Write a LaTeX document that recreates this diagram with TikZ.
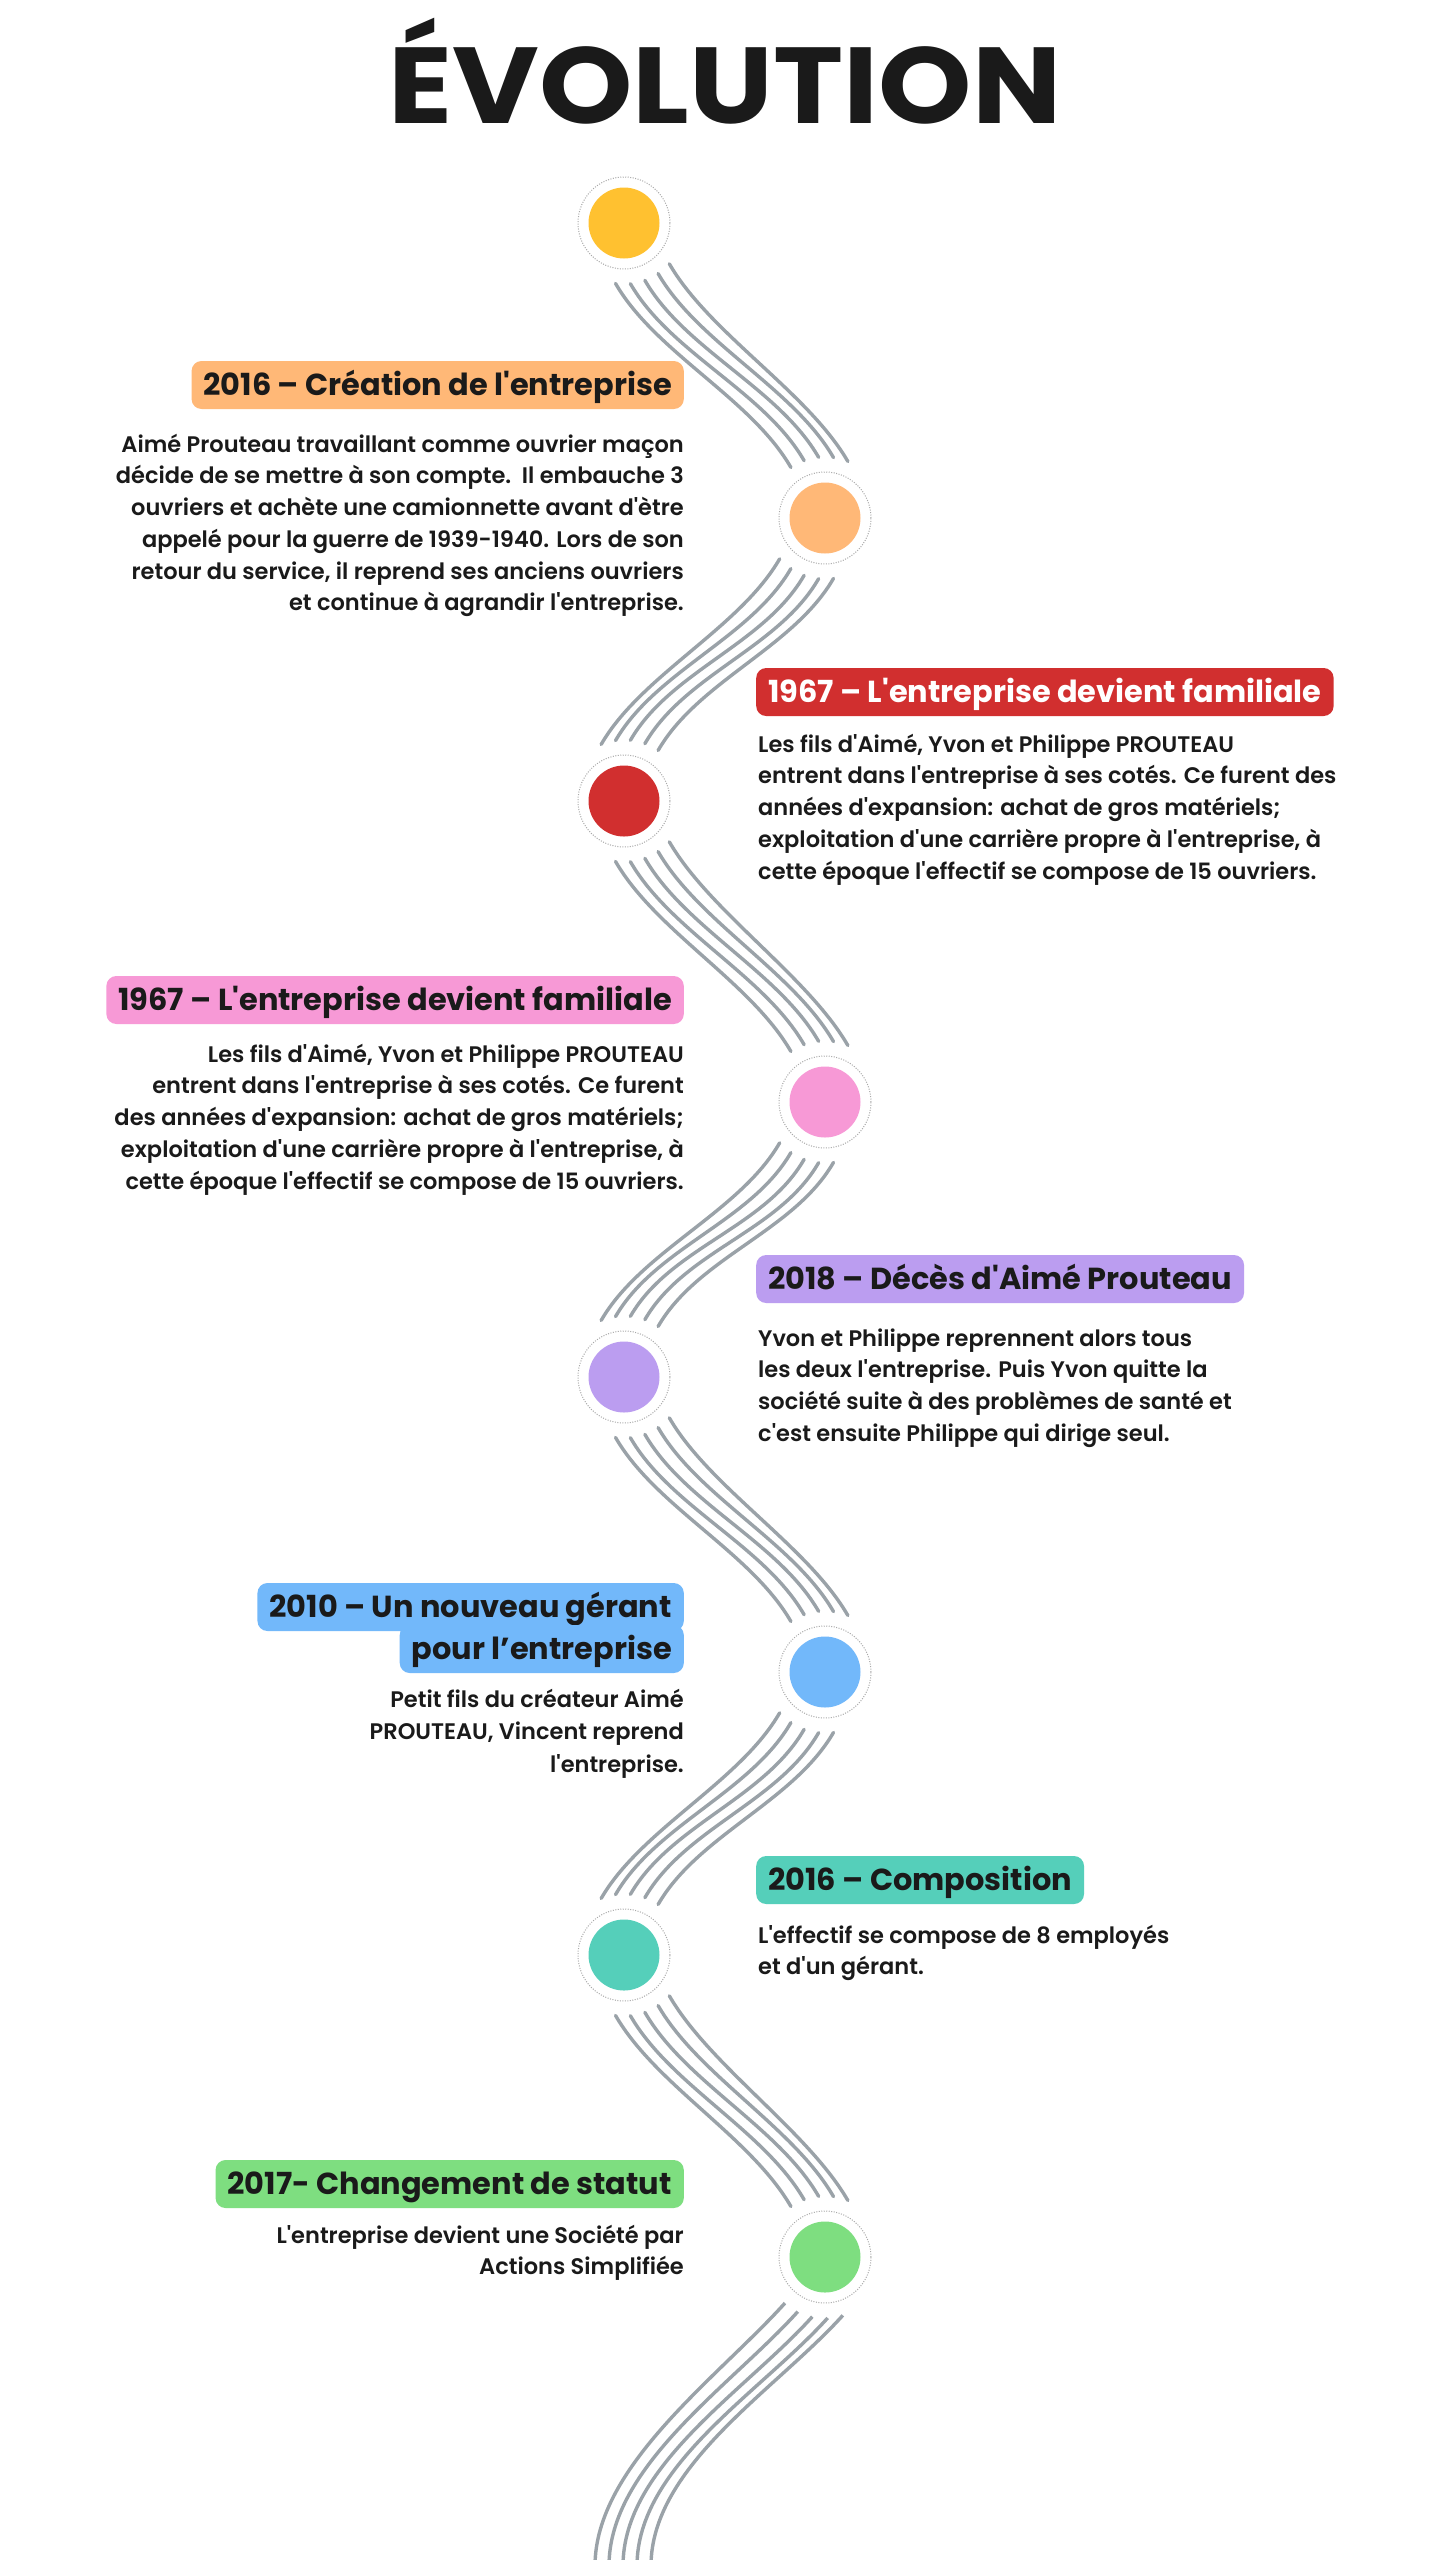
\documentclass[tikz,border=0pt]{standalone}
\usepackage{fontspec}
\newfontfamily\headfont{Poppins}
\IfFontExistsTF{Poppins SemiBold}{\newfontfamily\bodyfont{Poppins SemiBold}}{\newfontfamily\bodyfont{Poppins}}
\definecolor{cYellow}{HTML}{FFC130}
\definecolor{cOrange}{HTML}{FFB877}
\definecolor{cRed}{HTML}{D12F2F}
\definecolor{cPink}{HTML}{F799D6}
\definecolor{cPurple}{HTML}{BB9DF0}
\definecolor{cBlue}{HTML}{72B8FA}
\definecolor{cTeal}{HTML}{55CFBA}
\definecolor{cGreen}{HTML}{7EDE80}
\definecolor{wavegray}{HTML}{9AA2A8}
\definecolor{ringgray}{HTML}{A8A8A8}
\definecolor{ink}{HTML}{1A1A1A}
\tikzset{
  dotnode/.style={circle, fill=#1, minimum size=71pt, inner sep=0pt},
  ringnode/.style={circle, draw=ringgray, line width=1pt, dash pattern=on 1pt off 1.5pt, minimum size=92pt, inner sep=0pt},
  waveline/.style={draw=wavegray, line width=3.4pt, line cap=round},
  headbox/.style={fill=#1, text=ink, font=\headfont\bfseries\fontsize{30.4}{30.4}\selectfont,
     text height=34pt, text depth=14pt, inner ysep=0pt, inner xsep=12pt, rounded corners=10pt},
  headL/.style={headbox=#1, anchor=base east},
  headR/.style={headbox=#1, anchor=base west},
  bodyL/.style={anchor=north east, align=right, inner sep=0pt, text=ink, font=\bodyfont\fontsize{22.5}{31.7}\selectfont},
  bodyR/.style={anchor=north west, align=left, inner sep=0pt, text=ink, font=\bodyfont\fontsize{22.5}{31.7}\selectfont},
}
\newcommand\fl{\rule{0pt}{24pt}}
\begin{document}
\begin{tikzpicture}[x=1pt,y=-1pt]
\useasboundingbox (0,0) rectangle (1440,2560);
\fill[white] (0,0) rectangle (1440,2560);

\node[anchor=base, text=ink, inner sep=0pt, font=\headfont\bfseries\fontsize{108}{108}\selectfont] (title) at (725,123) {\scalebox{1.1}[1]{ÉVOLUTION}};

% timeline dots
\foreach \n/\x/\y/\c in {1/624/223/cYellow, 2/825/518/cOrange, 3/624/801/cRed, 4/825/1102/cPink,
                        5/624/1377/cPurple, 6/825/1672/cBlue, 7/624/1955/cTeal, 8/825/2257/cGreen}{
  \node[ringnode] (ring\n) at (\x,\y) {};
  \node[dotnode=\c] (dot\n) at (\x,\y) {};
}

% waves left -> right
\foreach \a/\b in {1/2, 3/4, 5/6, 7/8}{
  \foreach \k in {0,...,4}{
    \draw[waveline] ([shift={(98-14*\k:61)}]dot\a.center) .. controls +(60:80) and +(240:80) .. ([shift={(236+14*\k:61)}]dot\b.center);
  }
}
% waves right -> left
\foreach \a/\b in {2/3, 4/5, 6/7}{
  \foreach \k in {0,...,4}{
    \draw[waveline] ([shift={(82+14*\k:61)}]dot\a.center) .. controls +(120:80) and +(300:80) .. ([shift={(304-14*\k:61)}]dot\b.center);
  }
}
% final wave to the bottom edge
\coordinate (bottomend) at (623,2566);
\foreach \k in {0,...,4}{
  \draw[waveline, line cap=butt] ([shift={(131-14.5*\k:61)}]dot8.center) .. controls +(132:100) and +(270:100) .. ([xshift=-28pt+14pt*\k]bottomend);
}

% entry 1
\node[headL=cOrange] (h1) at (684,395) {2016 – Création de l'entreprise};
\node[bodyL] (b1) at (684,428) {\fl Aimé Prouteau travaillant comme ouvrier maçon\\
décide de se mettre à son compte.\ \ Il embauche 3\\
ouvriers et achète une camionnette avant d'ètre\\
appelé pour la guerre de 1939-1940. Lors de son\\
retour du service, il reprend ses anciens ouvriers\\
et continue à agrandir l'entreprise.};

% entry 2
\node[headR=cRed, text=white] (h2) at (756,702) {1967 – L'entreprise devient familiale};
\node[bodyR] (b2) at (758,728) {\fl Les fils d'Aimé, Yvon et Philippe PROUTEAU\\
entrent dans l'entreprise à ses cotés. Ce furent des\\
années d'expansion: achat de gros matériels;\\
exploitation d'une carrière propre à l'entreprise, à\\
cette époque l'effectif se compose de 15 ouvriers.};

% entry 3
\node[headL=cPink] (h3) at (684,1010) {1967 – L'entreprise devient familiale};
\node[bodyL] (b3) at (684,1038) {\fl Les fils d'Aimé, Yvon et Philippe PROUTEAU\\
entrent dans l'entreprise à ses cotés. Ce furent\\
des années d'expansion: achat de gros matériels;\\
exploitation d'une carrière propre à l'entreprise, à\\
cette époque l'effectif se compose de 15 ouvriers.};

% entry 4
\node[headR=cPurple] (h4) at (756,1289) {2018 – Décès d'Aimé Prouteau};
\node[bodyR] (b4) at (758,1322) {\fl Yvon et Philippe reprennent alors tous\\
les deux l'entreprise. Puis Yvon quitte la\\
société suite à des problèmes de santé et\\
c'est ensuite Philippe qui dirige seul.};

% entry 5
\node[headL=cBlue] (h5a) at (684,1617) {2010 – Un nouveau gérant};
\node[headL=cBlue] (h5b) at (684,1659) {pour l’entreprise};
\node[bodyL, font=\bodyfont\fontsize{22.5}{32.5}\selectfont] (b5) at (684,1683) {\fl Petit fils du créateur Aimé\\
PROUTEAU, Vincent reprend\\
l'entreprise.};

% entry 6
\node[headR=cTeal] (h6) at (756,1890) {2016 – Composition};
\node[bodyR] (b6) at (758,1919) {\fl L'effectif se compose de 8 employés\\
et d'un gérant.};

% entry 7
\node[headL=cGreen] (h7) at (684,2194) {2017- Changement de statut};
\node[bodyL] (b7) at (684,2219) {\fl L'entreprise devient une Société par\\
Actions Simplifiée};
\end{tikzpicture}
\end{document}
